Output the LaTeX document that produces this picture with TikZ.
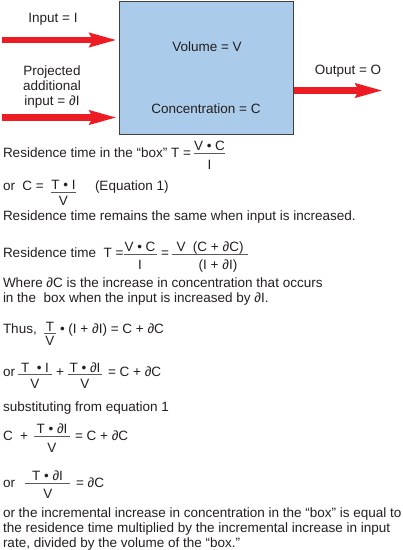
\documentclass[tikz,border=0pt]{standalone}
\usepackage{fontspec}
\setmainfont{Liberation Sans}
\usetikzlibrary{arrows.meta}
\definecolor{boxblue}{RGB}{171,203,234}
\definecolor{arrred}{RGB}{237,28,36}
\definecolor{txtcol}{RGB}{35,31,32}
\definecolor{barcol}{RGB}{90,90,90}
\tikzset{
  txt/.style={anchor=base west, inner sep=0pt, outer sep=0pt, text=txtcol, font=\fontsize{13.5}{15}\selectfont},
  txtc/.style={txt, anchor=base},
  fbar/.style={draw=barcol, line width=0.7pt},
  redarrow/.style={draw=arrred, line width=6.5pt, -{Stealth[length=27pt, width=13.5pt, inset=3pt]}},
  boxst/.style={draw=black!75, fill=boxblue, line width=0.8pt, minimum width=174pt, minimum height=132.5pt, inner sep=0pt}
}
\begin{document}
\begin{tikzpicture}[x=1pt,y=-1pt]
\useasboundingbox (0,0) rectangle (403,550);
% box
\node[boxst, anchor=north west] (box) at (119,1) {};
\node[txtc] (vol) at (207,51) {Volume = V};
\node[txtc] (conc) at (206,113) {Concentration = C};
% labels
\node[txtc] (inp) at (53,22) {Input = I};
\node[txt, anchor=north, align=center] (proj) at (52,66) {Projected\\additional\\input = ∂I};
\node[txtc] (out) at (348,74) {Output = O};
% arrows
\coordinate (a1s) at (2,40);
\coordinate (a1e) at (117,40);
\coordinate (a2s) at (2,117.5);
\coordinate (a2e) at (117,117.5);
\coordinate (a3s) at (box.east |- 0,90.5);
\coordinate (a3e) at (383,90.5);
\draw[redarrow] (a1s) -- (a1e);
\draw[redarrow] (a2s) -- (a2e);
\draw[redarrow] (a3s) -- (a3e);
% row 1
\node[txt] (r1) at (3,157) {Residence time in the “box” T =};
\node[txtc] (r1n) at (209.5,150) {V • C};
\node[txtc] (r1d) at (209.5,169) {I};
\coordinate (r1b1) at (194,153.5);
\coordinate (r1b2) at (225,153.5);
\draw[fbar] (r1b1) -- (r1b2);
% row 2
\node[txt] (r2a) at (3,190) {or};
\node[txt] (r2b) at (22.5,190) {C =};
\node[txtc] (r2n) at (63.5,189) {T • I};
\node[txtc] (r2d) at (63.5,205) {V};
\coordinate (r2b1) at (51,192.5);
\coordinate (r2b2) at (76,192.5);
\draw[fbar] (r2b1) -- (r2b2);
\node[txt] (r2c) at (95,190) {(Equation 1)};
% row 3
\node[txt] (r3) at (3,220) {Residence time remains the same when input is increased.};
% row 4
\node[txt] (r4a) at (3,257) {Residence time\ \ T =};
\node[txtc] (r4n1) at (140,251) {V • C};
\node[txtc] (r4d1) at (140,269) {I};
\coordinate (r4b1) at (123.5,254.5);
\coordinate (r4b2) at (157,254.5);
\draw[fbar] (r4b1) -- (r4b2);
\node[txt] (r4eq) at (161,257) {=};
\node[txt] (r4n2) at (176.5,251) {V\ \ (C + ∂C)};
\node[txtc] (r4d2) at (218,269) {(I + ∂I)};
\coordinate (r4b3) at (172,254.5);
\coordinate (r4b4) at (248,254.5);
\draw[fbar] (r4b3) -- (r4b4);
% where
\node[txt] (w1) at (3,287) {Where ∂C is the increase in concentration that occurs};
\node[txt] (w2) at (3,302.5) {in the\ \ box when the input is increased by ∂I.};
% thus
\node[txt] (th) at (3,333) {Thus,};
\node[txtc] (thn) at (50,331) {T};
\node[txtc] (thd) at (50,345) {V};
\coordinate (thb1) at (44,333.5);
\coordinate (thb2) at (56,333.5);
\draw[fbar] (thb1) -- (thb2);
\node[txt] (thr) at (60,333) {• (I + ∂I) = C + ∂C};
% or +
\node[txt] (o1) at (3,376) {or};
\node[txtc] (o1n1) at (35,372) {T\ \ • I};
\node[txtc] (o1d1) at (35,388) {V};
\coordinate (o1b1) at (18,374.5);
\coordinate (o1b2) at (52,374.5);
\draw[fbar] (o1b1) -- (o1b2);
\node[txtc] (o1p) at (60,376) {+};
\node[txtc] (o1n2) at (85,372) {T • ∂I};
\node[txtc] (o1d2) at (85,388) {V};
\coordinate (o1b3) at (68,374.5);
\coordinate (o1b4) at (102,374.5);
\draw[fbar] (o1b3) -- (o1b4);
\node[txt] (o1r) at (108,376) {= C + ∂C};
% substituting
\node[txt] (sub) at (3,411) {substituting from equation 1};
% C +
\node[txt] (c1) at (3,440) {C\ \ +};
\node[txtc] (c1n) at (52,433) {T • ∂I};
\node[txtc] (c1d) at (52,452) {V};
\coordinate (c1b1) at (34,436);
\coordinate (c1b2) at (70,436);
\draw[fbar] (c1b1) -- (c1b2);
\node[txt] (c1r) at (75,440) {= C + ∂C};
% or = dC
\node[txt] (o2) at (3,487) {or};
\node[txtc] (o2n) at (47.5,480) {T • ∂I};
\node[txtc] (o2d) at (48,498) {V};
\coordinate (o2b1) at (25,483);
\coordinate (o2b2) at (70,483);
\draw[fbar] (o2b1) -- (o2b2);
\node[txt] (o2r) at (76,487) {= ∂C};
% paragraph
\node[txt] (p1) at (3,517.5) {or the incremental increase in concentration in the “box” is equal to};
\node[txt] (p2) at (3,532.5) {the residence time multiplied by the incremental increase in input};
\node[txt] (p3) at (3,547.5) {rate, divided by the volume of the “box.”};
\end{tikzpicture}
\end{document}
